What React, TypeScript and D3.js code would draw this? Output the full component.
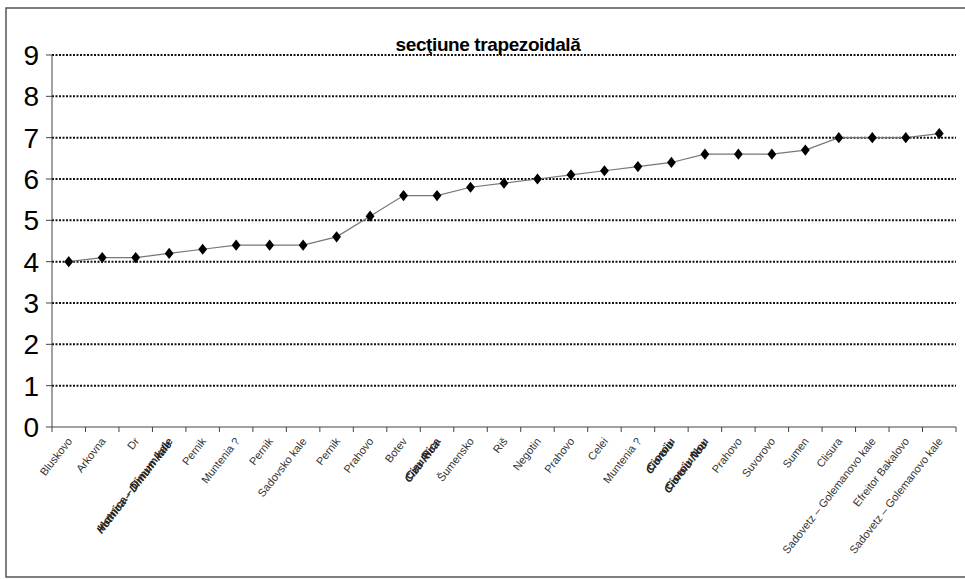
import React from "react";
import * as d3 from "d3";

const title = "secţiune trapezoidală";

const categories: string[] = [
  "Bluskovo",
  "Arkovna",
  "Dr",
  "Hotnica – Dimum kale",
  "Pernik",
  "Muntenia ?",
  "Pernik",
  "Sadovsko kale",
  "Pernik",
  "Prahovo",
  "Botev",
  "Cizu Rica",
  "Šumensko",
  "Riš",
  "Negotin",
  "Prahovo",
  "Celei",
  "Muntenia ?",
  "Cioroiu",
  "Cioroiu Nou",
  "Prahovo",
  "Suvorovo",
  "Sumen",
  "Clisura",
  "Sadovetz – Golemanovo kale",
  "Efreitor Bakalovo",
  "Sadovetz – Golemanovo kale",
];

const values: number[] = [
  4.0, 4.1, 4.1, 4.2, 4.3, 4.4, 4.4, 4.4, 4.6, 5.1, 5.6, 5.6, 5.8, 5.9, 6.0,
  6.1, 6.2, 6.3, 6.4, 6.6, 6.6, 6.6, 6.7, 7.0, 7.0, 7.0, 7.1,
];

// labels that appear as overlapping (smudged) text in the original
const smudgedLabels: number[] = [3, 11, 18, 19];

const yTicks: number[] = [0, 1, 2, 3, 4, 5, 6, 7, 8, 9];

const W = 965;
const H = 579;
const plot = { left: 52, right: 956, top: 55, bottom: 427 };
const FONT = "'Liberation Sans', Arial, sans-serif";

export default function App() {
  const idx = categories.map((_, i) => i);
  const x = d3
    .scaleBand<number>()
    .domain(idx)
    .range([plot.left, plot.right])
    .padding(0);
  const y = d3.scaleLinear().domain([0, 9]).range([plot.bottom, plot.top]);

  const line = d3
    .line<number>()
    .x((_, i) => (x(i) as number) + x.bandwidth() / 2)
    .y((d) => y(d));

  const boundaries = d3.range(categories.length + 1).map(
    (i) => plot.left + i * x.bandwidth()
  );

  const diamond = d3.symbol().type(d3.symbolDiamond).size(40)();

  return (
    <svg
      width={W}
      height={H}
      style={{ position: "absolute", left: 0, top: 0, background: "#fff" }}
    >
      <rect x={0} y={0} width={W} height={H} fill="#fff" />
      <rect
        x={6}
        y={8}
        width={962}
        height={569}
        fill="none"
        stroke="#555"
        strokeWidth={1.5}
      />
      {/* grid lines */}
      {yTicks
        .filter((t) => t > 0)
        .map((t) => (
          <line
            key={"g" + t}
            x1={plot.left}
            x2={plot.right}
            y1={y(t)}
            y2={y(t)}
            stroke="#111"
            strokeWidth={2}
            strokeDasharray="2,1.5"
          />
        ))}
      {/* y axis */}
      <line
        x1={plot.left}
        x2={plot.left}
        y1={plot.top}
        y2={plot.bottom}
        stroke="#444"
        strokeWidth={1}
      />
      {yTicks.map((t) => (
        <g key={"yt" + t}>
          <line
            x1={plot.left - 6}
            x2={plot.left}
            y1={y(t)}
            y2={y(t)}
            stroke="#444"
            strokeWidth={1}
          />
          <text
            x={39}
            y={y(t)}
            dy="0.36em"
            textAnchor="end"
            fontFamily={FONT}
            fontSize={28}
            fill="#000"
          >
            {t}
          </text>
        </g>
      ))}
      {/* x axis */}
      <line
        x1={plot.left}
        x2={plot.right}
        y1={plot.bottom}
        y2={plot.bottom}
        stroke="#444"
        strokeWidth={1}
      />
      {boundaries.map((bx, i) => (
        <line
          key={"xt" + i}
          x1={bx}
          x2={bx}
          y1={plot.bottom}
          y2={plot.bottom + 5}
          stroke="#444"
          strokeWidth={1}
        />
      ))}
      {categories.map((c, i) => {
        const cx = (x(i) as number) + x.bandwidth() / 2;
        const smudge = smudgedLabels.includes(i);
        return (
          <g
            key={"xl" + i}
            transform={`translate(${cx + 1},${plot.bottom + 12}) rotate(-52)`}
          >
            <text
              textAnchor="end"
              dy="0.35em"
              fontFamily={FONT}
              fontSize={11}
              fill="#333"
              fontWeight={smudge ? "bold" : "normal"}
            >
              {c}
            </text>
            {smudge && (
              <text
                textAnchor="end"
                dy="0.35em"
                x={-3}
                y={1}
                fontFamily={FONT}
                fontSize={11}
                fill="#222"
                fontWeight="bold"
                fontStyle="italic"
              >
                {c}
              </text>
            )}
          </g>
        );
      })}
      {/* series */}
      <path
        d={line(values) ?? ""}
        fill="none"
        stroke="#777"
        strokeWidth={1.2}
      />
      {values.map((v, i) => (
        <path
          key={"p" + i}
          d={diamond ?? ""}
          transform={`translate(${(x(i) as number) + x.bandwidth() / 2},${y(
            v
          )}) scale(1.3,0.95)`}
          fill="#000"
        />
      ))}
      <text
        x={488}
        y={51}
        textAnchor="middle"
        fontFamily={FONT}
        fontSize={19}
        fontWeight="bold"
        letterSpacing={-0.4}
        fill="#000"
      >
        {title}
      </text>
    </svg>
  );
}
